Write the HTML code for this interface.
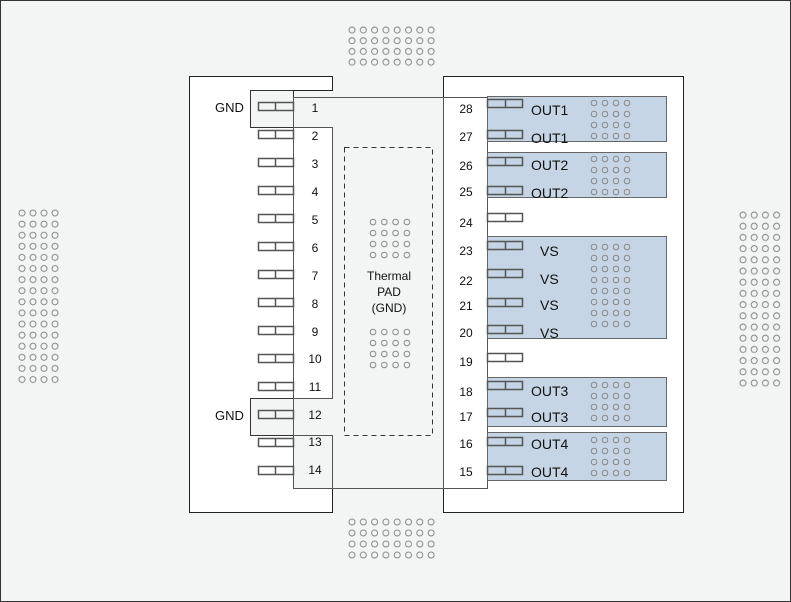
<!DOCTYPE html>
<html><head><style>
html,body{margin:0;padding:0;background:#f3f4f4;}
svg{display:block;}
text{font-family:"Liberation Sans",Arial,sans-serif;fill:#111;}
</style></head><body>
<svg width="791" height="602" viewBox="0 0 791 602" xmlns="http://www.w3.org/2000/svg">
<defs>
<pattern id="d1" patternUnits="userSpaceOnUse" x="16.5" y="207.5" width="11" height="11.1"><circle cx="5.5" cy="5.5" r="3" fill="none" stroke="#888" stroke-width="1"/></pattern>
<pattern id="d2" patternUnits="userSpaceOnUse" x="737.5" y="209.5" width="11.2" height="11.2"><circle cx="5.5" cy="5.5" r="3" fill="none" stroke="#888" stroke-width="1"/></pattern>
<pattern id="d3" patternUnits="userSpaceOnUse" x="346.5" y="24.5" width="11.3" height="10.7"><circle cx="5.5" cy="5.5" r="3" fill="none" stroke="#888" stroke-width="1"/></pattern>
<pattern id="d4" patternUnits="userSpaceOnUse" x="346.5" y="516.5" width="11.3" height="11"><circle cx="5.5" cy="5.5" r="3" fill="none" stroke="#888" stroke-width="1"/></pattern>
<pattern id="d5" patternUnits="userSpaceOnUse" x="367.5" y="216.5" width="11.3" height="11"><circle cx="5.5" cy="5.5" r="2.8" fill="none" stroke="#888" stroke-width="1"/></pattern>
<pattern id="pa" patternUnits="userSpaceOnUse" x="588.5" y="97.5" width="11" height="11"><circle cx="5.5" cy="5.5" r="2.8" fill="none" stroke="#888" stroke-width="1"/></pattern>
<pattern id="pb" patternUnits="userSpaceOnUse" x="588.5" y="153.5" width="11" height="11"><circle cx="5.5" cy="5.5" r="2.8" fill="none" stroke="#888" stroke-width="1"/></pattern>
<pattern id="pc" patternUnits="userSpaceOnUse" x="588.5" y="241.5" width="11" height="11"><circle cx="5.5" cy="5.5" r="2.8" fill="none" stroke="#888" stroke-width="1"/></pattern>
<pattern id="pd" patternUnits="userSpaceOnUse" x="588.5" y="379.5" width="11" height="11"><circle cx="5.5" cy="5.5" r="2.8" fill="none" stroke="#888" stroke-width="1"/></pattern>
<pattern id="pe" patternUnits="userSpaceOnUse" x="588.5" y="434.5" width="11" height="11"><circle cx="5.5" cy="5.5" r="2.8" fill="none" stroke="#888" stroke-width="1"/></pattern>
</defs>
<rect x="0.5" y="0.5" width="790" height="601" fill="#f3f4f4" stroke="#333"/>
<rect x="16.5" y="207.5" width="44" height="177.6" fill="url(#d1)"/>
<rect x="737.5" y="209.5" width="44.8" height="179.2" fill="url(#d2)"/>
<rect x="346.5" y="24.5" width="90.4" height="42.8" fill="url(#d3)"/>
<rect x="346.5" y="516.5" width="90.4" height="44" fill="url(#d4)"/>
<path d="M189.5 76.5 H332.5 V90.5 H250.5 V127.5 H332.5 V398.5 H250.5 V435.5 H332.5 V512.5 H189.5 Z" fill="#fff" stroke="#222"/>
<rect x="443.5" y="76.5" width="240" height="436" fill="#fff" stroke="#222"/>
<rect x="250.5" y="90.5" width="43" height="37" fill="#f3f4f4" stroke="#333"/>
<rect x="250.5" y="398.5" width="43" height="37" fill="#f3f4f4" stroke="#333"/>
<rect x="293.5" y="97.5" width="194" height="391" fill="#f3f4f4" stroke="#555"/>
<rect x="293.5" y="127.5" width="39" height="271" fill="#fff" stroke="#555"/>
<rect x="293.5" y="435.5" width="39" height="53" fill="#f3f4f4" stroke="#555"/>
<rect x="443.5" y="97.5" width="44" height="391" fill="#fff" stroke="#555"/>
<rect x="344.5" y="147.5" width="88" height="288" fill="none" stroke="#333" stroke-dasharray="5,4"/>
<rect x="367.5" y="216.5" width="45.2" height="44" fill="url(#d5)"/>
<rect x="367.5" y="327.5" width="45.2" height="44" fill="url(#d5)"/>
<text x="389" y="280" font-size="12" text-anchor="middle">Thermal</text>
<text x="389" y="296" font-size="12" text-anchor="middle">PAD</text>
<text x="389" y="312" font-size="12" text-anchor="middle">(GND)</text>
<text x="215" y="112" font-size="13">GND</text>
<text x="215" y="420" font-size="13">GND</text>
<g fill="#c5d5e5" stroke="#666">
<rect x="487.5" y="96.5" width="179" height="45"/>
<rect x="487.5" y="152.5" width="179" height="45"/>
<rect x="487.5" y="236.5" width="179" height="102"/>
<rect x="487.5" y="377.5" width="179" height="49"/>
<rect x="487.5" y="432.5" width="179" height="48"/>
</g>
<rect x="588.5" y="97.5" width="44" height="44" fill="url(#pa)"/>
<rect x="588.5" y="153.5" width="44" height="44" fill="url(#pb)"/>
<rect x="588.5" y="241.5" width="44" height="88" fill="url(#pc)"/>
<rect x="588.5" y="379.5" width="44" height="44" fill="url(#pd)"/>
<rect x="588.5" y="434.5" width="44" height="44" fill="url(#pe)"/>
<g fill="none" stroke="#555" stroke-width="1.5">
<path d="M258.5 102.5h35v8h-35z M275.5 102.5v8"/>
<path d="M258.5 130.5h35v8h-35z M275.5 130.5v8"/>
<path d="M258.5 158.5h35v8h-35z M275.5 158.5v8"/>
<path d="M258.5 186.5h35v8h-35z M275.5 186.5v8"/>
<path d="M258.5 214.5h35v8h-35z M275.5 214.5v8"/>
<path d="M258.5 242.5h35v8h-35z M275.5 242.5v8"/>
<path d="M258.5 270.5h35v8h-35z M275.5 270.5v8"/>
<path d="M258.5 298.5h35v8h-35z M275.5 298.5v8"/>
<path d="M258.5 326.5h35v8h-35z M275.5 326.5v8"/>
<path d="M258.5 354.5h35v8h-35z M275.5 354.5v8"/>
<path d="M258.5 382.5h35v8h-35z M275.5 382.5v8"/>
<path d="M258.5 410.5h35v8h-35z M275.5 410.5v8"/>
<path d="M258.5 438.5h35v8h-35z M275.5 438.5v8"/>
<path d="M258.5 466.5h35v8h-35z M275.5 466.5v8"/>
</g>
<g font-size="12" text-anchor="middle">
<text x="315" y="112">1</text><text x="315" y="140">2</text><text x="315" y="168">3</text><text x="315" y="196">4</text>
<text x="315" y="224">5</text><text x="315" y="252">6</text><text x="315" y="280">7</text><text x="315" y="308">8</text>
<text x="315" y="336">9</text><text x="315" y="363">10</text><text x="315" y="391">11</text><text x="315" y="419">12</text>
<text x="315" y="446">13</text><text x="315" y="474">14</text>
</g>
<g fill="none" stroke="#555" stroke-width="1.5">
<path d="M487.5 99.5h35v8h-35z M505.5 99.5v8"/>
<path d="M487.5 130.5h35v8h-35z M505.5 130.5v8"/>
<path d="M487.5 157.5h35v8h-35z M505.5 157.5v8"/>
<path d="M487.5 186.5h35v8h-35z M505.5 186.5v8"/>
<path d="M487.5 213.5h35v8h-35z M505.5 213.5v8"/>
<path d="M487.5 241.5h35v8h-35z M505.5 241.5v8"/>
<path d="M487.5 269.5h35v8h-35z M505.5 269.5v8"/>
<path d="M487.5 298.5h35v8h-35z M505.5 298.5v8"/>
<path d="M487.5 325.5h35v8h-35z M505.5 325.5v8"/>
<path d="M487.5 353.5h35v8h-35z M505.5 353.5v8"/>
<path d="M487.5 381.5h35v8h-35z M505.5 381.5v8"/>
<path d="M487.5 408.5h35v8h-35z M505.5 408.5v8"/>
<path d="M487.5 437.5h35v8h-35z M505.5 437.5v8"/>
<path d="M487.5 466.5h35v8h-35z M505.5 466.5v8"/>
</g>
<g font-size="12" text-anchor="middle">
<text x="466" y="113">28</text><text x="466" y="141">27</text><text x="466" y="170">26</text><text x="466" y="196">25</text>
<text x="466" y="227">24</text><text x="466" y="255">23</text><text x="466" y="285">22</text><text x="466" y="310">21</text>
<text x="466" y="337">20</text><text x="466" y="366">19</text><text x="466" y="396">18</text><text x="466" y="421">17</text>
<text x="466" y="448">16</text><text x="466" y="476">15</text>
</g>
<g font-size="14">
<text x="531" y="115">OUT1</text><text x="531" y="143">OUT1</text>
<text x="531" y="170">OUT2</text><text x="531" y="198">OUT2</text>
<text x="540" y="256">VS</text><text x="540" y="284">VS</text><text x="540" y="310">VS</text><text x="540" y="338">VS</text>
<text x="531" y="396">OUT3</text><text x="531" y="422">OUT3</text>
<text x="531" y="449">OUT4</text><text x="531" y="477">OUT4</text>
</g>
</svg>
</body></html>
